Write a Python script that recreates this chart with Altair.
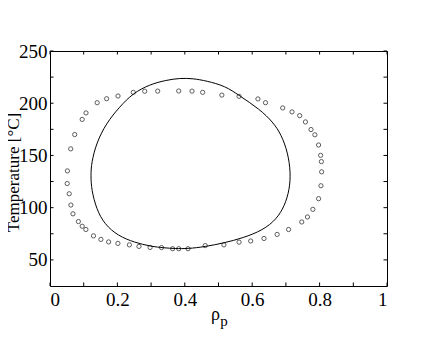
import altair as alt
import pandas as pd

# Experimental points (rho_p, Temperature)
rho_exp = [0.0516, 0.0614, 0.0733, 0.0955, 0.1068, 0.140, 0.168, 0.2018, 0.247, 0.281,
           0.3196, 0.382, 0.4214, 0.453, 0.510, 0.561, 0.617, 0.6395, 0.6905, 0.718,
           0.741, 0.758, 0.7745, 0.786, 0.797, 0.803, 0.8053, 0.806, 0.804, 0.797,
           0.780, 0.764, 0.747, 0.708, 0.674, 0.635, 0.5955, 0.561, 0.516, 0.4605,
           0.4095, 0.382, 0.364, 0.331, 0.297, 0.264, 0.2356, 0.2015, 0.174, 0.151,
           0.129, 0.1065, 0.0955, 0.0843, 0.0682, 0.062, 0.057, 0.051]
T_exp = [135.2, 156.3, 170.0, 184.5, 190.7, 200.5, 204.3, 206.9, 210.4, 211.5,
         211.6, 211.7, 211.6, 210.4, 207.8, 206.6, 204.1, 200.5, 195.5, 191.7,
         188.1, 182.1, 174.8, 169.8, 160.0, 150.1, 144.1, 134.3, 121.0, 108.6,
         98.4, 91.1, 86.3, 79.1, 74.4, 70.5, 68.1, 67.0, 64.4, 63.7,
         60.7, 60.7, 60.7, 61.8, 61.9, 62.9, 64.4, 65.8, 67.2, 69.6,
         73.0, 79.1, 82.2, 86.7, 94.1, 102.5, 113.3, 123.1]

# Calculated coexistence curve (closed loop, clockwise from the left side)
rho_curve = [0.121, 0.123, 0.1377, 0.167, 0.207, 0.246, 0.296, 0.345, 0.385, 0.424,
             0.464, 0.520, 0.561, 0.6223, 0.6617, 0.6866, 0.706, 0.714,
             0.711, 0.696, 0.672, 0.632, 0.573, 0.516, 0.460, 0.4095,
             0.370, 0.340, 0.299, 0.251, 0.202, 0.162, 0.138, 0.123]
T_curve = [130.8, 143.0, 161.9, 180.9, 196.7, 209.5, 218.0, 222.1, 224.0, 223.7,
           221.4, 216.5, 207.5, 194.2, 181.9, 169.8, 152.4, 134.0,
           117.4, 101.5, 88.9, 78.5, 71.0, 66.2, 62.6, 60.7,
           60.8, 61.5, 62.9, 66.7, 73.0, 84.1, 98.4, 117.4]

x_major = [0, 0.2, 0.4, 0.6, 0.8, 1.0]
x_minor = [0.1, 0.3, 0.5, 0.7, 0.9]
y_major = [50, 100, 150, 200, 250]
y_minor = [75, 125, 175, 225]

W, H = 337, 235
FONT = "Liberation Serif, Times New Roman, DejaVu Serif, serif"
TL = 3.5

exp_df = pd.DataFrame({"rho": rho_exp, "T": T_exp})
curve_df = pd.DataFrame({"rho": rho_curve, "T": T_curve, "i": list(range(len(rho_curve)))})
xt_df = pd.DataFrame({"v": x_major + x_minor})
yt_df = pd.DataFrame({"v": y_major + y_minor})

xs = alt.Scale(domain=[0, 1], nice=False, zero=False)
ys = alt.Scale(domain=[25, 250], nice=False, zero=False)

x_axis = alt.Axis(values=x_major, format="~g", ticks=False, domain=False, grid=False,
                  labelFont=FONT, labelFontSize=19, labelColor="black", labelPadding=4,
                  title=None)
y_axis = alt.Axis(values=y_major, format="d", ticks=False, domain=False, grid=False,
                  labelFont=FONT, labelFontSize=19, labelColor="black", labelPadding=3,
                  title="Temperature [°C]", titleFont=FONT, titleFontSize=17,
                  titleFontWeight="normal", titleColor="black", titleAngle=270,
                  titleAlign="center", titleBaseline="alphabetic", titleX=-31.5, titleY=121)

curve = alt.Chart(curve_df).mark_line(color="black", strokeWidth=1,
                                      interpolate="basis-closed").encode(
    x=alt.X("rho:Q", scale=xs, axis=x_axis),
    y=alt.Y("T:Q", scale=ys, axis=y_axis),
    order="i:Q",
)

pts = alt.Chart(exp_df).mark_point(shape="circle", filled=False, color="black",
                                    size=18, strokeWidth=0.9).encode(
    x=alt.X("rho:Q", scale=xs),
    y=alt.Y("T:Q", scale=ys),
)

ticks_bottom = alt.Chart(xt_df).mark_rule(color="black", strokeWidth=1).encode(
    x=alt.X("v:Q", scale=xs), y=alt.value(H), y2=alt.value(H - TL))
ticks_top = alt.Chart(xt_df).mark_rule(color="black", strokeWidth=1).encode(
    x=alt.X("v:Q", scale=xs), y=alt.value(0), y2=alt.value(TL))
ticks_left = alt.Chart(yt_df).mark_rule(color="black", strokeWidth=1).encode(
    y=alt.Y("v:Q", scale=ys), x=alt.value(0), x2=alt.value(TL))
ticks_right = alt.Chart(yt_df).mark_rule(color="black", strokeWidth=1).encode(
    y=alt.Y("v:Q", scale=ys), x=alt.value(W), x2=alt.value(W - TL))

lab_df = pd.DataFrame({"t": ["ρ"]})
sub_df = pd.DataFrame({"t": ["p"]})
rho_text = alt.Chart(lab_df).mark_text(font=FONT, fontSize=18, color="black",
                                        align="center", baseline="alphabetic").encode(
    text="t:N", x=alt.value(165.5), y=alt.value(269))
sub_text = alt.Chart(sub_df).mark_text(font=FONT, fontSize=15, color="black",
                                        align="center", baseline="alphabetic").encode(
    text="t:N", x=alt.value(174), y=alt.value(274.5))

chart = alt.layer(curve, pts, ticks_bottom, ticks_top, ticks_left, ticks_right,
                  rho_text, sub_text).properties(
    width=W, height=H,
    autosize=alt.AutoSizeParams(type="none"),
    padding={"left": 42, "top": 43, "right": 30, "bottom": 50},
    background="white",
).configure_view(stroke="black", strokeWidth=1)

chart.save("out.html", embed_options={"renderer": "svg", "actions": False})
